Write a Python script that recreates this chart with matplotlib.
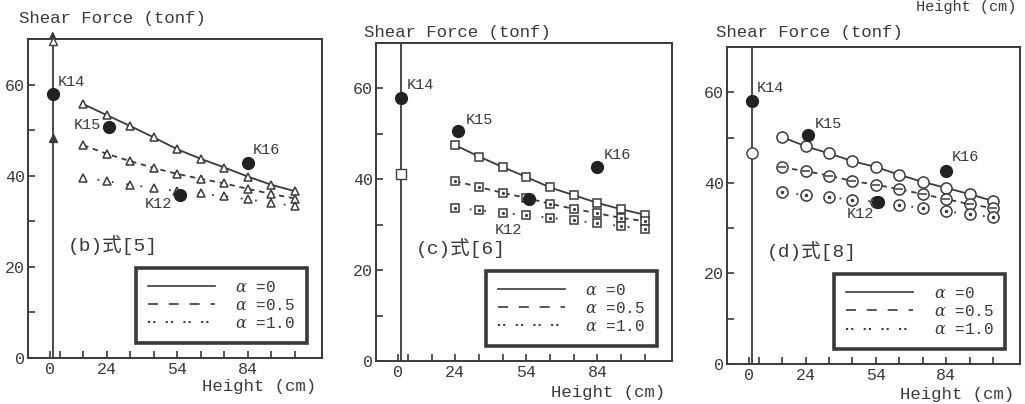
import matplotlib.pyplot as plt
from matplotlib.lines import Line2D

plt.rcParams['font.family'] = ['Liberation Mono', 'Noto Sans CJK JP']
plt.rcParams['mathtext.fontset'] = 'dejavuserif'

INK = '#3a3a3a'
W, H = 1025, 404

# ---- data ----
x_b = [14, 24, 34, 44, 54, 64, 74, 84, 94, 104]
b_a0 = [55.7, 53.3, 50.9, 48.4, 45.8, 43.7, 41.8, 39.8, 38.0, 36.6]
b_a05 = [46.7, 44.8, 43.2, 41.7, 40.4, 39.3, 38.3, 37.1, 36.0, 35.0]
b_a10 = [39.6, 38.8, 38.0, 37.3, 36.6, 36.1, 35.5, 34.8, 34.1, 33.3]

x_c = [24, 34, 44, 54, 64, 74, 84, 94, 104]
c_a0 = [47.5, 45.0, 42.7, 40.5, 38.2, 36.5, 34.8, 33.4, 32.2]
c_a05 = [39.6, 38.3, 37.0, 35.9, 34.6, 33.5, 32.5, 31.5, 30.8]
c_a10 = [33.7, 33.2, 32.6, 32.1, 31.5, 31.0, 30.3, 29.7, 29.1]

x_d = [14, 24, 34, 44, 54, 64, 74, 84, 94, 104]
d_a0 = [50.1, 48.1, 46.5, 44.8, 43.5, 41.8, 40.2, 38.9, 37.5, 36.0]
d_a05 = [43.4, 42.6, 41.6, 40.4, 39.6, 38.6, 37.5, 36.4, 35.3, 34.4]
d_a10 = [37.9, 37.3, 36.8, 36.3, 35.8, 35.1, 34.4, 33.7, 33.1, 32.4]

# values on the vertical (height 0) line
v_x = 1
b_v_filled = 48.3
b_v_open = 69.5
c_v_open = 41.2
d_v_open = 46.5

# test results
exp_names = ['K14', 'K15', 'K16', 'K12']
exp_x = [1, 25, 84, 55]
exp_y = [58.0, 50.6, 42.7, 35.7]

panel_labels = ['(b)式[5]', '(c)式[6]', '(d)式[8]']
legend_labels = [r'$\alpha$ =0', r'$\alpha$ =0.5', r'$\alpha$ =1.0']
xtick_vals = [0, 24, 54, 84]
xminor_vals = [4, 14, 34, 44, 64, 74, 94, 104]
ytick_vals = [0, 20, 40, 60]
yminor_vals = [10, 30, 50]


def fx(px):
    return px / W


def fy(py):
    return 1 - py / H


fig = plt.figure(figsize=(10.25, 4.04), dpi=100)

boxes = [(28, 39, 322, 358), (376, 43, 672, 361), (727, 47, 1020, 364)]
axes = []
for (l, t, r, b) in boxes:
    ax = fig.add_axes([fx(l), fy(b), (r - l) / W, (b - t) / H])
    ax.set_xlim(-9.5, 115.5)
    ax.set_ylim(0, 70)
    for s in ax.spines.values():
        s.set_color(INK)
        s.set_linewidth(1.4)
    ax.set_xticks(xtick_vals)
    ax.set_xticks(xminor_vals, minor=True)
    ax.set_yticks(ytick_vals)
    ax.set_yticks(yminor_vals, minor=True)
    ax.tick_params(which='both', direction='in', length=5, width=1.2,
                   color=INK, labelcolor=INK, labelsize=12)
    ax.tick_params(axis='x', pad=3)
    ax.tick_params(axis='y', pad=2)
    ax.axvline(v_x, color=INK, lw=1.3, zorder=1)
    axes.append(ax)

line_kw = dict(color=INK, lw=1.3, zorder=2)
solid = '-'
dashed = (0, (3.0, 2.6))
dotted = (0, (1.0, 7.0))

# ---- (b) triangles ----
ax = axes[0]
tri = dict(marker='^', ms=6, mfc='white', mec=INK, mew=1.1)
ax.plot(x_b, b_a0, linestyle=solid, **tri, **line_kw)
ax.plot(x_b, b_a05, linestyle=dashed, **tri, **line_kw)
ax.plot(x_b, b_a10, linestyle=dotted, **tri, **line_kw)
ax.plot([v_x], [b_v_filled], marker='^', ms=6, color=INK, zorder=3)
ax.plot([v_x], [b_v_open], marker='^', ms=6, mfc='white', mec=INK,
        clip_on=False, zorder=3)
ax.annotate('', xy=(v_x, 72.3), xytext=(v_x, 69.8), annotation_clip=False,
            arrowprops=dict(arrowstyle='-|>', color=INK, lw=1.2,
                            mutation_scale=8))

# ---- (c) squares ----
ax = axes[1]
sq = dict(marker='s', ms=6, mfc='white', mec=INK, mew=1.1)
ax.plot(x_c, c_a0, linestyle=solid, **sq, **line_kw)
ax.plot(x_c, c_a05, linestyle=dashed, **sq, **line_kw)
ax.plot(x_c, c_a10, linestyle=dotted, **sq, **line_kw)
ax.plot(x_c, c_a05, linestyle='none', marker='.', ms=2.5, color=INK, zorder=3)
ax.plot(x_c, c_a10, linestyle='none', marker='.', ms=2.5, color=INK, zorder=3)
ax.plot([v_x], [c_v_open], marker='s', ms=6.5, mfc='white', mec=INK, zorder=3)

# ---- (d) circles ----
ax = axes[2]
ci = dict(marker='o', ms=8, mfc='white', mec=INK, mew=1.1)
ax.plot(x_d, d_a0, linestyle=solid, **ci, **line_kw)
ax.plot(x_d, d_a05, linestyle=dashed, **ci, **line_kw)
ax.plot(x_d, d_a10, linestyle=dotted, **ci, **line_kw)
ax.plot(x_d, d_a05, linestyle='none', marker='_', ms=6, mew=1.1, color=INK, zorder=3)
ax.plot(x_d, d_a10, linestyle='none', marker='.', ms=3, color=INK, zorder=3)
ax.plot([v_x], [d_v_open], marker='o', ms=8, mfc='white', mec=INK, zorder=3)

# label offsets (pixels) per panel for K14, K15, K16, K12
offsets = [
    [(5, 12, 'left'), (-8, 2, 'right'), (5, 13, 'left'), (-8, -9, 'right')],
    [(6, 13, 'left'), (8, 11, 'left'), (6, 12, 'left'), (-7, -31, 'right')],
    [(5, 13, 'left'), (7, 11, 'left'), (6, 14, 'left'), (-4, -12, 'right')],
]

legend_handles = [
    Line2D([], [], color=INK, lw=1.2, linestyle='-'),
    Line2D([], [], color=INK, lw=1.2, linestyle=(0, (6.0, 6.5))),
    Line2D([], [], color=INK, lw=1.5, linestyle=(0, (1.0, 1.5, 1.0, 5.0))),
]

for i, ax in enumerate(axes):
    ax.plot(exp_x, exp_y, linestyle='none', marker='o', ms=8.5, color='#222222',
            zorder=5)
    for name, xv, yv, (dx, dy, ha) in zip(exp_names, exp_x, exp_y, offsets[i]):
        ax.annotate(name, (xv, yv), xytext=(dx, dy), textcoords='offset pixels',
                    ha=ha, va='center', fontsize=11, color=INK)
    ax.text(0.135, 0.355, panel_labels[i], transform=ax.transAxes, fontsize=14,
            color=INK, ha='left', va='center')
    leg = ax.legend(legend_handles, legend_labels, loc='lower right',
                    bbox_to_anchor=(0.95, 0.047), borderaxespad=0,
                    fontsize=11.5, handlelength=4.2, handletextpad=1.3,
                    borderpad=0.75, labelspacing=0.2, fancybox=False,
                    framealpha=1, labelcolor=INK)
    leg.get_frame().set_edgecolor(INK)
    leg.get_frame().set_linewidth(2.6)

# axis titles
ylab_pos = [(19, 18), (364, 32), (716, 33)]
xlab_pos = [(316, 387), (665, 392), (1014, 395)]
for (px, py) in ylab_pos:
    fig.text(fx(px), fy(py), 'Shear Force (tonf)', ha='left', va='center',
             fontsize=12.5, color=INK)
for (px, py) in xlab_pos:
    fig.text(fx(px), fy(py), 'Height (cm)', ha='right', va='center',
             fontsize=12.5, color=INK)
# label left over from the panel above, kept just inside the top edge
fig.text(fx(1016), fy(0.5), 'Height (cm)', ha='right', va='top',
         fontsize=11, color=INK)

fig.savefig('out.png', dpi=100)
